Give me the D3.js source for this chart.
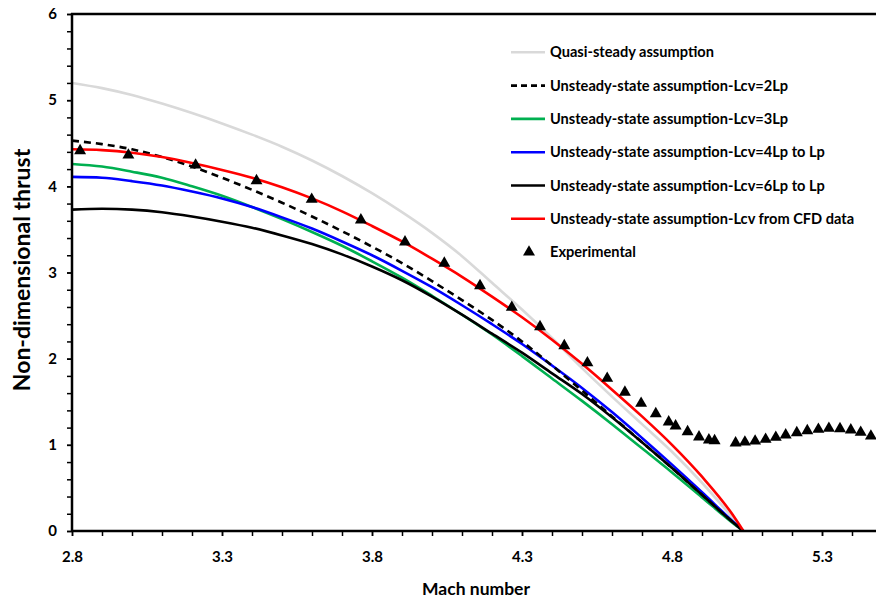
<!DOCTYPE html>
<html><head><meta charset="utf-8">
<script src="https://cdn.jsdelivr.net/npm/d3@7"></script>
<style>
body{margin:0;background:#fff;}
svg{display:block;font-family:Lato, "Open Sans", sans-serif;font-weight:bold;}
</style></head>
<body><svg id="c" width="876" height="601"></svg>
<script>
// ---- data ----
const mach = [2.8,2.9,3.0,3.1,3.2,3.3,3.4,3.5,3.6,3.7,3.8,3.9,4.0,4.1,4.2,4.3,4.4,4.5,4.6,4.7,4.8,4.9,5.0,5.038];
const quasiSteady = [5.20,5.14,5.06,4.96,4.85,4.73,4.60,4.46,4.30,4.12,3.92,3.70,3.46,3.19,2.88,2.57,2.24,1.89,1.56,1.24,0.92,0.56,0.16,0];
const lcv2 = [4.53,4.49,4.43,4.34,4.23,4.10,3.96,3.81,3.65,3.48,3.30,3.11,2.90,2.68,2.45,2.20,1.92,1.63,1.33,1.03,0.73,0.42,0.11,0];
const lcv3 = [4.26,4.23,4.17,4.10,4.00,3.89,3.76,3.62,3.47,3.31,3.13,2.94,2.73,2.51,2.28,2.03,1.77,1.51,1.24,0.96,0.68,0.39,0.10,0];
const lcv4 = [4.11,4.10,4.06,4.01,3.94,3.86,3.76,3.64,3.51,3.36,3.20,3.02,2.83,2.62,2.40,2.17,1.92,1.66,1.38,1.08,0.77,0.45,0.12,0];
const lcv6 = [3.73,3.74,3.73,3.70,3.65,3.59,3.52,3.43,3.33,3.21,3.07,2.91,2.72,2.51,2.29,2.07,1.83,1.59,1.32,1.03,0.73,0.42,0.11,0];
const lcvCFD = [4.43,4.42,4.39,4.34,4.27,4.19,4.10,3.99,3.86,3.71,3.54,3.36,3.16,2.95,2.72,2.48,2.22,1.94,1.64,1.33,1.00,0.63,0.20,0];
const expMach = [2.827,2.988,3.212,3.415,3.599,3.763,3.910,4.041,4.160,4.266,4.360,4.441,4.518,4.584,4.643,4.697,4.746,4.789,4.812,4.852,4.890,4.923,4.942,5.012,5.043,5.077,5.112,5.146,5.179,5.216,5.251,5.288,5.323,5.360,5.396,5.429,5.463];
const expThrust = [4.413,4.363,4.247,4.065,3.849,3.609,3.354,3.107,2.847,2.596,2.371,2.150,1.952,1.772,1.610,1.482,1.361,1.265,1.219,1.152,1.091,1.056,1.047,1.021,1.031,1.044,1.064,1.087,1.114,1.141,1.164,1.180,1.192,1.187,1.172,1.145,1.102];
const xTicks = [2.8,3.3,3.8,4.3,4.8,5.3];
const yTicks = [0,1,2,3,4,5,6];
const seriesNames = ["Quasi-steady assumption","Unsteady-state assumption-Lcv=2Lp","Unsteady-state assumption-Lcv=3Lp","Unsteady-state assumption-Lcv=4Lp to Lp","Unsteady-state assumption-Lcv=6Lp to Lp","Unsteady-state assumption-Lcv from CFD data"];
const expName = "Experimental";

// ---- styles ----
const series = [
  {name:seriesNames[0], v:quasiSteady, color:"#d9d9d9", dash:null},
  {name:seriesNames[1], v:lcv2, color:"#000000", dash:"7,5"},
  {name:seriesNames[2], v:lcv3, color:"#00b050", dash:null},
  {name:seriesNames[3], v:lcv4, color:"#0000ff", dash:null},
  {name:seriesNames[4], v:lcv6, color:"#000000", dash:null},
  {name:seriesNames[5], v:lcvCFD, color:"#ff0000", dash:null}
];

const svg = d3.select("#c");
const x = d3.scaleLinear().domain([2.8,5.5]).range([72,882]);
const y = d3.scaleLinear().domain([0,6]).range([531,14]);

svg.append("clipPath").attr("id","pc").append("rect")
  .attr("x",72).attr("y",0).attr("width",810).attr("height",531);

const line = d3.line().x((d,i)=>x(mach[i])).y(d=>y(d)).curve(d3.curveMonotoneX);
const lg = svg.append("g").attr("clip-path","url(#pc)");
// draw order: gray, green, blue, black, dashed, red
[0,2,3,4,1,5].forEach(k=>{
  const s = series[k];
  lg.append("path").attr("d", line(s.v)).attr("fill","none")
    .attr("stroke", s.color).attr("stroke-width", 2.6)
    .attr("stroke-dasharray", s.dash);
});

const tri = d3.symbol().type(d3.symbolTriangle).size(62);
svg.append("g").selectAll("path").data(expMach).join("path")
  .attr("d", tri).attr("transform",(d,i)=>`translate(${x(d)},${y(expThrust[i])})`)
  .attr("fill","#000");

// axes
const styleTicks = a=>{a.select(".domain").remove(); a.selectAll("line").attr("stroke-width",1.5);};
svg.append("g").attr("transform","translate(0,531)")
  .call(d3.axisBottom(x).tickValues(d3.range(28,55).map(v=>v/10)).tickSize(5).tickFormat(""))
  .call(styleTicks);
svg.append("g").attr("transform","translate(0,531)")
  .call(d3.axisBottom(x).tickValues(xTicks).tickSize(5).tickFormat(d3.format(".1f")))
  .call(a=>{styleTicks(a);
    a.selectAll("text").attr("font-size",15).attr("font-family","Lato").attr("font-weight","bold").attr("fill","#000").attr("dy","1.5em");});
svg.append("g").attr("transform","translate(72,0)")
  .call(d3.axisLeft(y).tickValues(d3.range(0,31).map(v=>v/5)).tickSize(5).tickFormat(""))
  .call(styleTicks);
svg.append("g").attr("transform","translate(72,0)")
  .call(d3.axisLeft(y).tickValues(yTicks).tickSize(5).tickFormat(d3.format("d")))
  .call(a=>{styleTicks(a);
    a.selectAll("text").attr("font-size",15).attr("font-family","Lato").attr("font-weight","bold").attr("fill","#000").attr("x",-15);});
// frame lines
svg.append("line").attr("x1",72).attr("x2",876).attr("y1",531).attr("y2",531).attr("stroke","#000").attr("stroke-width",2.5);
svg.append("line").attr("x1",72).attr("x2",72).attr("y1",13).attr("y2",532).attr("stroke","#000").attr("stroke-width",2.5);
svg.append("line").attr("x1",71).attr("x2",876).attr("y1",14).attr("y2",14).attr("stroke","#000").attr("stroke-width",2.5);

// titles
svg.append("text").attr("x",476).attr("y",595).attr("text-anchor","middle")
  .attr("font-size",17.5).text("Mach number");
svg.append("text").attr("transform","translate(30,270) rotate(-90)").attr("text-anchor","middle")
  .attr("font-size",23).text("Non-dimensional thrust");

// legend
const leg = svg.append("g");
series.forEach((s,i)=>{
  const yy = 52.3 + i*33.3;
  leg.append("line").attr("x1",511).attr("x2",545).attr("y1",yy).attr("y2",yy)
    .attr("stroke",s.color).attr("stroke-width",2.6).attr("stroke-dasharray", s.dash ? "6,4" : null);
  leg.append("text").attr("x",550).attr("y",yy).attr("dy","0.35em").attr("font-size",14.6).text(s.name);
});
const ey = 52.3 + 6*33.3;
leg.append("path").attr("d",tri).attr("transform",`translate(529,${ey})`).attr("fill","#000");
leg.append("text").attr("x",550).attr("y",ey).attr("dy","0.35em").attr("font-size",14.6).text(expName);
</script></body></html>
